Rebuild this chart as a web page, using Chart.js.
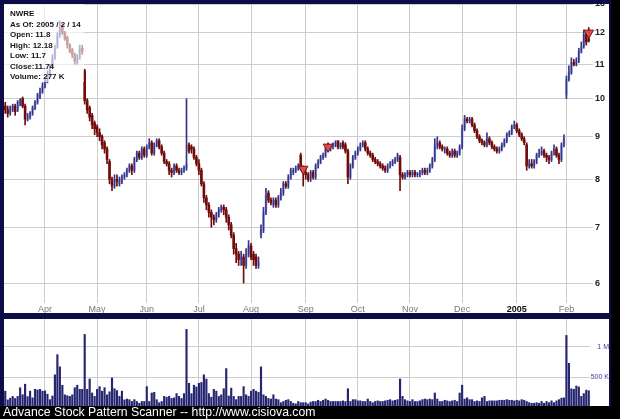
<!DOCTYPE html>
<html>
<head>
<meta charset="utf-8">
<script src="https://cdn.jsdelivr.net/npm/chart.js@4.4.1/dist/chart.umd.min.js"></script>
<style>
  html, body { margin: 0; padding: 0; width: 620px; height: 419px; overflow: hidden; background: #000; }
  #frame { position: absolute; left: 0; top: 0; width: 611px; height: 406px; background: #0c0c46; }
  #price { position: absolute; left: 4px; top: 4px; background: #fff; }
  #vol { position: absolute; left: 4px; top: 319px; background: #fff; }
  #footer { position: absolute; left: 3px; top: 405px; color: #fff; font: 12.25px "Liberation Sans", Arial, sans-serif; line-height: 14px; white-space: nowrap; }
</style>
</head>
<body>
<div id="frame"></div>
<canvas id="price" width="605" height="309"></canvas>
<canvas id="vol" width="605" height="87"></canvas>
<div id="footer">Advance Stock Pattern Scanner -- http://www.cisiova.com</div>
<script>
// month ticks: index of first trading day of each month
const monthNames = ['Apr', 'May', 'Jun', 'Jul', 'Aug', 'Sep', 'Oct', 'Nov', 'Dec', '2005', 'Feb'];
const monthStart = [16, 37, 57, 78, 99, 121, 142, 163, 184, 206, 226];
const priceTicks = [6, 7, 8, 9, 10, 11, 12, 13];
const volTicks = [500, 1000];
const volTickLabels = ['500 K', '1 M'];
const infoLines = ['NWRE', 'As Of: 2005 / 2 / 14', 'Open: 11.8', 'High: 12.18', 'Low: 11.7', 'Close:11.74', 'Volume: 277 K'];

// daily OHLC, Mar 10 2004 .. Feb 14 2005
const opens = [
  9.8, 9.7, 9.6, 9.7, 9.8, 9.7, 9.85, 10.0, 9.8, 9.45, 9.5, 9.6, 9.75, 9.9, 10.05, 10.2,
  10.35, 10.5, 10.7, 10.95, 11.2, 11.55, 11.9, 12.25, 12.0, 11.85, 11.6, 11.45, 11.3, 11.05, 11.2, 11.5, 10.8, 9.95, 9.75, 9.55, 9.35,
  9.25, 9.1, 9.0, 8.85, 8.7, 8.4, 8.0, 7.85, 8.0, 7.9, 7.95, 8.05, 8.1, 8.2, 8.3, 8.2, 8.45, 8.6, 8.5, 8.7,
  8.55, 8.75, 8.85, 8.6, 8.8, 8.9, 8.75, 8.6, 8.4, 8.35, 8.2, 8.15, 8.3, 8.2, 8.15, 8.2, 8.25, 8.8, 8.75, 8.7, 8.5,
  8.35, 8.2, 7.9, 7.6, 7.45, 7.3, 7.2, 7.15, 7.25, 7.35, 7.4, 7.35, 7.2, 7.05, 6.85, 6.6, 6.5, 6.4, 6.45, 6.3, 6.5,
  6.65, 6.5, 6.45, 6.3, 6.85, 6.95, 7.3, 7.7, 7.55, 7.45, 7.55, 7.45, 7.6, 7.7, 7.9, 7.85, 8.05, 8.15, 8.2, 8.25, 8.55, 8.25,
  8.15, 8.1, 8.0, 8.15, 8.05, 8.3, 8.4, 8.5, 8.55, 8.8, 8.7, 8.75, 8.8, 8.9, 8.75, 8.85, 8.8, 8.65, 8.05, 8.3, 8.5,
  8.6, 8.7, 8.8, 8.85, 8.7, 8.6, 8.55, 8.45, 8.4, 8.35, 8.3, 8.25, 8.2, 8.3, 8.35, 8.4, 8.45, 8.5, 8.1, 8.05, 8.1,
  8.15, 8.1, 8.15, 8.1, 8.1, 8.15, 8.2, 8.15, 8.2, 8.3, 8.45, 8.8, 8.85, 8.75, 8.7, 8.7, 8.6, 8.55, 8.65, 8.55, 8.6,
  8.75, 9.2, 9.45, 9.4, 9.45, 9.3, 9.15, 9.0, 8.9, 8.85, 8.8, 8.95, 8.85, 8.75, 8.7, 8.65, 8.7, 8.8, 8.9, 9.05, 9.1, 9.25,
  9.3, 9.15, 9.05, 8.95, 8.8, 8.3, 8.35, 8.3, 8.4, 8.55, 8.6, 8.65, 8.55, 8.5, 8.45, 8.6, 8.7, 8.55, 8.45, 8.8,
  10.1, 10.55, 10.75, 11.05, 11.0, 11.1, 11.4, 11.55, 11.95, 11.8
];
const highs = [
  9.9, 9.8, 9.8, 9.85, 9.85, 9.95, 10.0, 10.05, 9.85, 9.6, 9.65, 9.8, 9.95, 10.15, 10.3, 10.45,
  10.6, 10.8, 11.0, 11.3, 11.6, 12.0, 12.4, 12.3, 12.05, 11.9, 11.65, 11.5, 11.35, 11.3, 11.6, 11.6, 10.85, 10.0, 9.8, 9.6, 9.4,
  9.3, 9.2, 9.05, 8.9, 8.75, 8.45, 8.05, 8.1, 8.1, 8.05, 8.1, 8.15, 8.25, 8.35, 8.35, 8.5, 8.65, 8.65, 8.75, 8.75,
  8.8, 8.95, 8.9, 8.85, 8.95, 8.95, 8.8, 8.65, 8.45, 8.4, 8.25, 8.35, 8.35, 8.25, 8.25, 8.3, 10.0, 8.85, 8.8, 8.75, 8.55,
  8.45, 8.25, 7.95, 7.65, 7.5, 7.35, 7.25, 7.3, 7.4, 7.45, 7.45, 7.4, 7.25, 7.1, 6.9, 6.7, 6.55, 6.55, 6.5, 6.6, 6.75,
  6.7, 6.55, 6.5, 6.45, 7.05, 7.4, 7.8, 7.75, 7.6, 7.6, 7.6, 7.65, 7.8, 7.95, 7.95, 8.1, 8.25, 8.25, 8.3, 8.35, 8.6, 8.3,
  8.25, 8.15, 8.2, 8.2, 8.35, 8.45, 8.55, 8.6, 8.75, 8.85, 8.8, 8.85, 8.9, 8.9, 8.85, 8.9, 8.85, 8.7, 8.35, 8.55, 8.65,
  8.75, 8.85, 8.9, 8.9, 8.75, 8.65, 8.6, 8.5, 8.45, 8.4, 8.35, 8.3, 8.35, 8.4, 8.45, 8.5, 8.6, 8.55, 8.15, 8.15, 8.2,
  8.2, 8.2, 8.2, 8.15, 8.2, 8.25, 8.25, 8.25, 8.35, 8.5, 8.95, 9.0, 8.9, 8.8, 8.75, 8.75, 8.65, 8.7, 8.7, 8.65, 8.8,
  9.3, 9.55, 9.5, 9.5, 9.5, 9.35, 9.2, 9.05, 8.95, 8.9, 9.1, 9.0, 8.9, 8.8, 8.75, 8.75, 8.85, 8.95, 9.1, 9.15, 9.3, 9.4,
  9.35, 9.2, 9.1, 9.0, 8.85, 8.45, 8.45, 8.45, 8.6, 8.7, 8.75, 8.7, 8.6, 8.55, 8.65, 8.8, 8.75, 8.6, 8.85, 9.05,
  10.65, 10.95, 11.2, 11.15, 11.2, 11.5, 11.7, 12.1, 12.0, 12.18
];
const lows = [
  9.6, 9.5, 9.55, 9.65, 9.55, 9.65, 9.8, 9.75, 9.3, 9.4, 9.45, 9.55, 9.7, 9.85, 10.0, 10.15,
  10.3, 10.45, 10.65, 10.9, 11.15, 11.5, 11.85, 11.95, 11.75, 11.5, 11.35, 11.2, 11.0, 11.0, 11.15, 11.3, 9.85, 9.6, 9.4, 9.2, 9.05,
  9.0, 8.9, 8.7, 8.6, 8.35, 7.9, 7.75, 7.8, 7.85, 7.85, 7.9, 8.0, 8.05, 8.15, 8.1, 8.15, 8.4, 8.45, 8.45, 8.5,
  8.5, 8.7, 8.55, 8.55, 8.75, 8.7, 8.55, 8.35, 8.3, 8.1, 8.05, 8.1, 8.15, 8.1, 8.1, 8.15, 8.2, 8.6, 8.6, 8.45, 8.3,
  8.1, 7.85, 7.5, 7.35, 7.2, 7.0, 7.05, 7.1, 7.2, 7.3, 7.25, 7.1, 6.95, 6.8, 6.5, 6.35, 6.3, 6.3, 6.0, 6.25, 6.45,
  6.4, 6.3, 6.25, 6.25, 6.8, 6.9, 7.25, 7.5, 7.45, 7.4, 7.4, 7.4, 7.55, 7.65, 7.8, 7.8, 8.0, 8.1, 8.15, 8.2, 8.2, 7.85,
  8.0, 7.95, 7.95, 8.0, 8.0, 8.25, 8.35, 8.45, 8.5, 8.65, 8.65, 8.7, 8.75, 8.7, 8.7, 8.7, 8.6, 7.9, 8.0, 8.25, 8.45,
  8.55, 8.65, 8.75, 8.65, 8.55, 8.5, 8.4, 8.35, 8.3, 8.25, 8.2, 8.15, 8.15, 8.25, 8.3, 8.35, 8.4, 7.75, 8.0, 8.0, 8.05,
  8.05, 8.05, 8.05, 8.05, 8.05, 8.1, 8.1, 8.1, 8.15, 8.25, 8.4, 8.7, 8.7, 8.65, 8.6, 8.55, 8.5, 8.5, 8.5, 8.5, 8.55,
  8.7, 9.15, 9.35, 9.35, 9.25, 9.1, 8.95, 8.85, 8.8, 8.75, 8.75, 8.8, 8.7, 8.65, 8.6, 8.6, 8.65, 8.75, 8.85, 9.0, 9.05, 9.2,
  9.1, 9.0, 8.9, 8.8, 8.2, 8.25, 8.25, 8.25, 8.35, 8.5, 8.55, 8.5, 8.4, 8.35, 8.4, 8.55, 8.5, 8.35, 8.4, 8.75,
  10.0, 10.5, 10.7, 10.95, 10.95, 11.05, 11.35, 11.5, 11.6, 11.7
];
const closes = [
  9.7, 9.6, 9.75, 9.8, 9.65, 9.9, 9.95, 9.8, 9.45, 9.55, 9.6, 9.75, 9.9, 10.1, 10.2, 10.35,
  10.5, 10.7, 10.9, 11.2, 11.5, 11.9, 12.2, 12.0, 11.8, 11.6, 11.4, 11.3, 11.1, 11.2, 11.5, 11.4, 9.95, 9.7, 9.5, 9.3, 9.2,
  9.1, 9.0, 8.8, 8.7, 8.45, 8.0, 7.85, 8.0, 7.95, 8.0, 8.05, 8.1, 8.2, 8.3, 8.2, 8.45, 8.6, 8.5, 8.7, 8.55,
  8.75, 8.85, 8.6, 8.8, 8.9, 8.75, 8.6, 8.4, 8.35, 8.2, 8.15, 8.3, 8.2, 8.15, 8.2, 8.25, 8.35, 8.65, 8.7, 8.5, 8.35,
  8.2, 7.9, 7.6, 7.45, 7.3, 7.2, 7.15, 7.25, 7.35, 7.4, 7.35, 7.2, 7.05, 6.85, 6.6, 6.5, 6.4, 6.45, 6.3, 6.5, 6.65,
  6.45, 6.4, 6.3, 6.35, 6.95, 7.3, 7.65, 7.55, 7.5, 7.55, 7.45, 7.6, 7.7, 7.9, 7.85, 8.05, 8.2, 8.2, 8.25, 8.3, 8.25, 8.15,
  8.1, 8.0, 8.15, 8.05, 8.3, 8.4, 8.5, 8.55, 8.7, 8.7, 8.75, 8.8, 8.85, 8.75, 8.8, 8.75, 8.65, 8.05, 8.3, 8.5, 8.6,
  8.7, 8.8, 8.85, 8.7, 8.6, 8.55, 8.45, 8.4, 8.35, 8.3, 8.25, 8.2, 8.3, 8.35, 8.4, 8.45, 8.55, 8.1, 8.05, 8.1, 8.15,
  8.1, 8.15, 8.1, 8.1, 8.15, 8.2, 8.15, 8.2, 8.3, 8.45, 8.8, 8.85, 8.75, 8.7, 8.7, 8.6, 8.55, 8.65, 8.55, 8.6, 8.75,
  9.2, 9.45, 9.4, 9.45, 9.3, 9.15, 9.0, 8.9, 8.85, 8.8, 8.95, 8.85, 8.75, 8.7, 8.65, 8.7, 8.8, 8.9, 9.05, 9.1, 9.25, 9.3,
  9.15, 9.05, 8.95, 8.85, 8.3, 8.35, 8.3, 8.4, 8.55, 8.6, 8.65, 8.55, 8.5, 8.45, 8.6, 8.7, 8.55, 8.45, 8.8, 8.95,
  10.55, 10.75, 11.05, 11.0, 11.1, 11.4, 11.55, 11.95, 11.7, 11.74
];
// daily volume in thousands of shares
const volumes = [
  270, 126, 155, 184, 150, 184, 327, 212, 385, 180, 270, 160, 300, 290, 300, 270,
  275, 220, 130, 190, 540, 873, 672, 368, 210, 195, 184, 210, 327, 368, 300, 300, 1207, 300, 470, 240, 184,
  300, 345, 270, 327, 210, 260, 488, 310, 280, 184, 270, 126, 140, 130, 100, 130, 100, 70, 100, 100,
  345, 100, 240, 250, 130, 80, 100, 184, 170, 184, 150, 160, 230, 184, 150, 230, 1290, 400, 230, 368, 340,
  400, 414, 540, 470, 230, 170, 300, 270, 184, 210, 310, 643, 190, 320, 184, 130, 184, 184, 345, 210, 184,
  270, 300, 270, 250, 672, 210, 184, 150, 140, 210, 140, 130, 80, 100, 120, 130, 100, 70, 60, 100, 80, 80,
  80, 60, 90, 100, 100, 120, 100, 120, 140, 120, 100, 100, 100, 100, 100, 110, 100, 310, 100, 130, 130,
  110, 110, 100, 100, 140, 100, 80, 100, 110, 100, 100, 110, 120, 130, 110, 120, 130, 470, 184, 130, 110,
  100, 130, 100, 100, 110, 130, 140, 130, 140, 130, 240, 140, 100, 100, 120, 110, 100, 110, 120, 100, 240,
  368, 140, 160, 130, 130, 100, 110, 100, 160, 184, 100, 110, 110, 110, 110, 120, 120, 120, 130, 120, 120, 110,
  120, 110, 130, 120, 100, 80, 70, 70, 80, 70, 100, 70, 100, 80, 110, 80, 110, 130, 155, 160,
  1190, 730, 310, 300, 356, 340, 184, 230, 287, 277
];
// pattern signals (red triangles)
const signalIdx = [120, 130, 235];
const signalPrice = [8.23, 8.75, 12.0];

const labels = closes.map((c, i) => i);
const isUp = closes.map((c, i) => c >= opens[i]);
const triData = closes.map(() => null);
signalIdx.forEach((idx, k) => { triData[idx] = signalPrice[k]; });

const fontFamily = '"Liberation Sans", Arial, sans-serif';
const gridColor = '#cdcdcd';

function fixWidth(w) {
    return s => { s.width = w; s.paddingTop = 0; s.paddingBottom = 0; };
}
function fixHeight(h) {
    return s => { s.height = h; s.paddingLeft = 0; s.paddingRight = 0; };
}
function monthTicks(s) {
    s.ticks = monthStart.map(v => ({ value: v }));
}

// translucent quote box in the upper left corner
const infoBox = {
    id: 'infoBox',
    afterDraw(chart) {
        const ctx = chart.ctx;
        ctx.save();
        ctx.fillStyle = 'rgba(255,255,255,0.62)';
        ctx.fillRect(0, 0, 80, 78);
        ctx.fillStyle = '#151515';
        ctx.font = 'bold 8px ' + fontFamily;
        ctx.textBaseline = 'middle';
        infoLines.forEach((t, i) => ctx.fillText(t, 6, 10 + i * 10.5));
        ctx.restore();
    }
};

Chart.defaults.animation = false;
Chart.defaults.plugins.legend.display = false;
Chart.defaults.plugins.tooltip.enabled = false;

new Chart(document.getElementById('price'), {
    type: 'bar',
    data: {
        labels: labels,
        datasets: [
            {
                type: 'line',
                data: triData,
                showLine: false,
                clip: false,
                pointStyle: 'triangle',
                pointRotation: 180,
                pointRadius: 5.5,
                pointBackgroundColor: '#e44a4a',
                pointBorderColor: '#7a1010',
                pointBorderWidth: 1,
                order: 0
            },
            {
                data: lows.map((l, i) => [l, highs[i]]),
                backgroundColor: isUp.map(u => u ? '#34348a' : '#6e0c0c'),
                barThickness: 1,
                grouped: false,
                order: 1
            },
            {
                data: opens.map((o, i) => [o, closes[i]]),
                backgroundColor: isUp.map(u => u ? '#b4b8ea' : '#7e0e0e'),
                barThickness: 2,
                minBarLength: 1,
                grouped: false,
                order: 2
            }
        ]
    },
    options: {
        responsive: false,
        layout: { padding: 0, autoPadding: false },
        scales: {
            x: {
                type: 'category',
                offset: true,
                afterBuildTicks: monthTicks,
                afterFit: fixHeight(13),
                grid: { offset: false, color: gridColor, tickLength: 3 },
                border: { display: false },
                ticks: {
                    autoSkip: false,
                    maxRotation: 0,
                    padding: 1,
                    callback: v => monthNames[monthStart.indexOf(v)] || '',
                    color: c => (c.tick && c.tick.label === '2005') ? '#111' : '#777',
                    font: c => ({ family: fontFamily, size: 9, weight: (c.tick && c.tick.label === '2005') ? 'bold' : 'normal' })
                }
            },
            y: {
                type: 'logarithmic',
                position: 'right',
                bounds: 'data',
                min: 5.725,
                max: 13,
                afterBuildTicks: s => { s.ticks = priceTicks.map(v => ({ value: v })); },
                afterFit: fixWidth(19),
                grid: { color: gridColor, tickLength: 3 },
                border: { display: false },
                ticks: {
                    padding: 2,
                    color: '#222',
                    font: { family: fontFamily, size: 9, weight: 'bold' },
                    callback: v => String(v)
                }
            }
        }
    },
    plugins: [infoBox]
});

new Chart(document.getElementById('vol'), {
    type: 'bar',
    data: {
        labels: labels,
        datasets: [{
            data: volumes,
            backgroundColor: '#262670',
            barThickness: 1.5
        }]
    },
    options: {
        responsive: false,
        layout: { padding: 0, autoPadding: false },
        scales: {
            x: {
                type: 'category',
                offset: true,
                afterBuildTicks: monthTicks,
                afterFit: fixHeight(0),
                grid: { offset: false, color: gridColor, drawTicks: false },
                border: { display: false },
                ticks: { display: false, autoSkip: false }
            },
            y: {
                position: 'right',
                min: 25,
                max: 1462,
                afterBuildTicks: s => { s.ticks = volTicks.map(v => ({ value: v })); },
                afterFit: fixWidth(19),
                grid: { color: gridColor, tickLength: 0 },
                border: { display: false },
                ticks: {
                    crossAlign: 'far',
                    padding: 0,
                    color: '#3c3ca6',
                    font: { family: fontFamily, size: 7 },
                    callback: v => volTickLabels[volTicks.indexOf(v)]
                }
            }
        }
    }
});
</script>
</body>
</html>
